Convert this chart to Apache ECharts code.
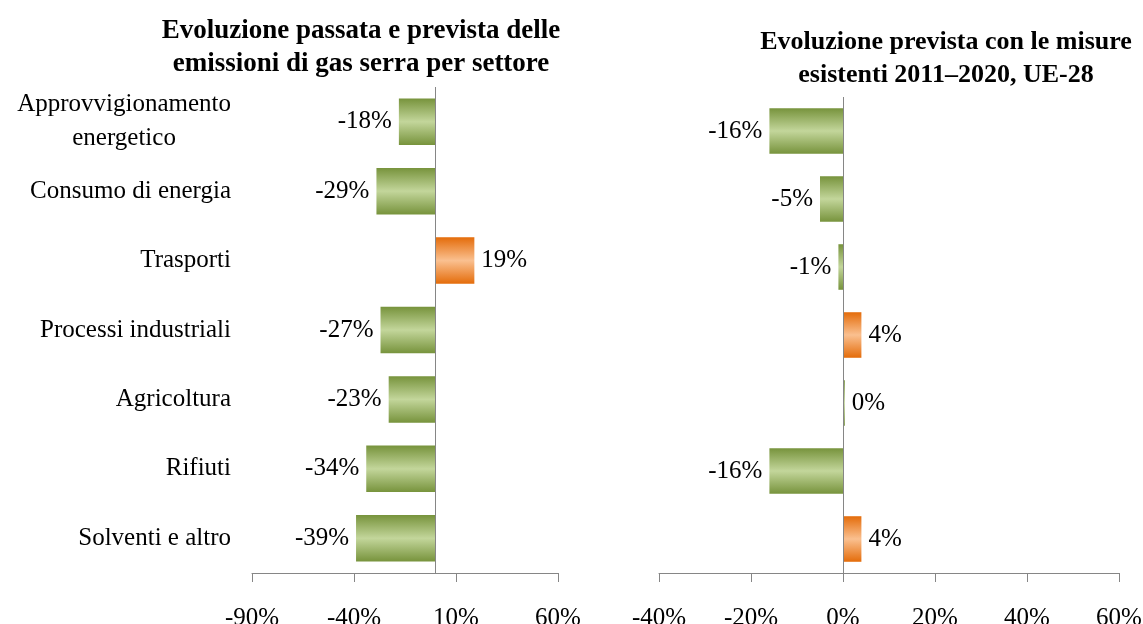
<!DOCTYPE html>
<html>
<head>
<meta charset="utf-8">
<style>
  html, body { margin: 0; padding: 0; background: #fff; }
  #chart { width: 1143px; height: 624px; }
</style>
<script src="https://cdn.jsdelivr.net/npm/echarts@6/dist/echarts.min.js"></script>
</head>
<body>
<div id="chart"></div>
<script>
var settori = ['Approvvigionamento\nenergetico', 'Consumo di energia', 'Trasporti', 'Processi industriali', 'Agricoltura', 'Rifiuti', 'Solventi e altro'];
var passata = [-18, -29, 19, -27, -23, -34, -39];   // evoluzione passata e prevista
var prevista = [-16, -5, -1, 4, 0.4, -16, 4];      // 2011-2020, UE-28
var tickSx = { min: -90, max: 60, step: 50 };
var tickDx = { min: -40, max: 60, step: 20 };

var FONT = 'Liberation Serif';
var grigio = '#868686';

function sfum(scuro, chiaro) {
    return new echarts.graphic.LinearGradient(0, 0, 0, 1, [
        { offset: 0, color: scuro },
        { offset: 0.5, color: chiaro },
        { offset: 1, color: scuro }
    ]);
}
var verde = sfum('#77933c', '#c3d69b');
var arancio = sfum('#e46c0a', '#fac090');

function barre(valori) {
    return valori.map(function (v) {
        return {
            value: v,
            itemStyle: { color: v > 0.5 ? arancio : verde },
            label: { position: v >= 0 ? 'right' : 'left' }
        };
    });
}

function asseX(idx, t) {
    return {
        type: 'value', gridIndex: idx, min: t.min, max: t.max, interval: t.step,
        splitLine: { show: false },
        axisLine: { show: true, onZero: false, lineStyle: { color: grigio } },
        axisTick: { show: true, length: 9, lineStyle: { color: grigio } },
        axisLabel: { margin: 33, fontFamily: FONT, fontSize: 25, color: '#000', formatter: '{value}%' }
    };
}

function serie(idx, valori) {
    return {
        type: 'bar', xAxisIndex: idx, yAxisIndex: idx,
        barWidth: '67%',
        data: barre(valori),
        label: {
            show: true, distance: 7, fontFamily: FONT, fontSize: 25, color: '#000',
            formatter: function (p) { return Math.round(p.value) + '%'; }
        },
        markLine: {
            silent: true, symbol: ['none', 'none'], label: { show: false },
            lineStyle: { color: grigio, type: 'solid', width: 1 },
            data: [{ xAxis: 0 }]
        }
    };
}

var myChart = echarts.init(document.getElementById('chart'));
var option = {
    animation: false,
    title: [
        { text: 'Evoluzione passata e prevista delle\nemissioni di gas serra per settore', left: 356, top: 10, textAlign: 'center',
          textStyle: { fontFamily: FONT, fontSize: 27, fontWeight: 'bold', color: '#000', lineHeight: 33 } },
        { text: 'Evoluzione prevista con le misure\nesistenti 2011\u20132020, UE-28', left: 941, top: 21, textAlign: 'center',
          textStyle: { fontFamily: FONT, fontSize: 26, fontWeight: 'bold', color: '#000', lineHeight: 33 } }
    ],
    grid: [
        { left: 252, right: 585, top: 87, bottom: 51, outerBoundsMode: 'none' },
        { left: 659, right: 24, top: 97, bottom: 51, outerBoundsMode: 'none' }
    ],
    xAxis: [asseX(0, tickSx), asseX(1, tickDx)],
    yAxis: [
        { type: 'category', gridIndex: 0, data: settori, inverse: true,
          axisLine: { show: false }, axisTick: { show: false },
          axisLabel: { margin: 21, fontFamily: FONT, fontSize: 25, color: '#000', lineHeight: 34,
            formatter: function (v) {
                if (v.indexOf('\n') < 0) return v;
                return v.split('\n').map(function (r) { return '{c|' + r + '}'; }).join('\n');
            },
            rich: { c: { align: 'center', fontFamily: FONT, fontSize: 25, lineHeight: 34 } } } },
        { type: 'category', gridIndex: 1, data: settori, inverse: true,
          axisLine: { show: false }, axisTick: { show: false }, axisLabel: { show: false } }
    ],
    series: [serie(0, passata), serie(1, prevista)]
};
myChart.setOption(option);
</script>
</body>
</html>
